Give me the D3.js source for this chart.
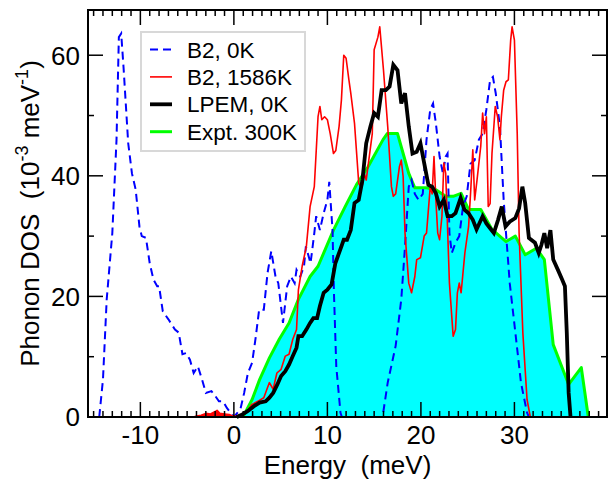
<!DOCTYPE html>
<html>
<head>
<meta charset="utf-8">
<script src="https://cdn.jsdelivr.net/npm/d3@7"></script>
<style>
  html, body { margin: 0; padding: 0; background: #fff; }
  svg { display: block; }
  text { font-family: "Liberation Sans", Arial, Helvetica, sans-serif; fill: #000; }
</style>
</head>
<body>
<svg id="chart" width="608" height="481"></svg>
<script>
// Phonon density of states, energy in meV, DOS in 10^-3 meV^-1
const xTicksMajor = [-10, 0, 10, 20, 30];
const yTicksMajor = [0, 20, 40, 60];
const yTicksMinor = [10, 30, 50];

const legendLabels = ["B2, 0K", "B2, 1586K", "LPEM, 0K", "Expt. 300K"];

// B2 phase at 0 K (imaginary modes plotted at negative energy)
const b2_0K = [
  [-14.4, 0], [-14.0, 6.2], [-13.6, 19.5], [-13.0, 30.5], [-12.55, 46], [-12.3, 63],
  [-12.05, 63.6], [-11.8, 58], [-11.3, 45.4], [-10.9, 40.4], [-10.5, 37.7], [-10.1, 31.6],
  [-9.85, 30], [-9.4, 29.7], [-9.0, 25.5], [-8.6, 22.8], [-8.2, 21.7], [-8.0, 21.7],
  [-7.6, 17.5], [-7.0, 16.2], [-6.3, 14.5], [-5.9, 14], [-5.5, 10.4], [-5.1, 10.6],
  [-4.7, 9.5], [-4.3, 7.3], [-3.85, 8.4], [-3.4, 6.2], [-3.0, 4.0], [-2.4, 4.3],
  [-2.0, 3.5], [-1.6, 2.6], [-1.15, 2.6], [-0.75, 1.5], [-0.1, 0.2], [0.1, 0.2],
  [0.7, 1.3], [1.1, 4.0], [1.5, 7.3], [1.95, 9], [2.35, 13.4], [2.7, 17.8], [3.2, 17.8],
  [3.6, 23.9], [4.0, 27.5], [4.45, 23.3], [4.75, 22.2], [5.25, 15.6], [5.7, 21.7],
  [6.1, 23.3], [6.5, 22.2], [6.7, 24.4], [7.1, 23.3], [7.5, 25], [7.7, 28.3], [8.2, 25.5],
  [8.6, 30.5], [8.8, 33.3], [9.2, 31], [9.6, 33.8], [10.0, 36], [10.2, 39], [10.55, 31],
  [10.7, 20.6], [10.95, 8.4], [11.4, 0.7], [11.55, 0], [15.9, 0], [16.45, 5.7],
  [17.3, 11.8], [17.9, 19.5], [18.3, 28.3], [18.7, 38.2], [19.0, 39.3], [19.35, 37],
  [19.75, 36], [20.2, 37], [20.6, 46], [21.0, 51], [21.3, 52], [21.6, 48.7], [22.0, 43.2],
  [22.35, 40.4], [22.65, 43.2], [22.85, 43.7], [23.05, 30.5], [23.3, 27.2], [23.7, 28.9],
  [24.1, 30], [24.5, 34.9], [24.9, 36.6], [25.3, 42], [25.75, 42.6], [26.2, 46], [26.6, 47],
  [27.0, 51], [27.4, 55.9], [27.7, 56.4], [28.0, 53.7], [28.45, 48.2], [28.85, 36],
  [29.1, 30.5], [29.5, 22.2], [30.1, 14], [30.7, 5.7], [31.35, 0.7], [31.55, 0]
];

// B2 phase at 1586 K
const b2_1586K = [
  [-4.3, 0], [-4.0, 0.15], [-3.5, 0.3], [-3.0, 0.6], [-2.5, 0.5], [-2.0, 0.9], [-1.8, 1.1],
  [-1.5, 0.6], [-1.0, 0.5], [-0.5, 0.4], [0.0, 0.1],
  [0.5, 0.2], [1.3, 0.7], [1.95, 2.1], [2.55, 2.6], [3.2, 3.2], [3.6, 4.9], [3.8, 5.7],
  [4.2, 4.6], [4.6, 7.3], [5.05, 7.9], [5.5, 10.1], [5.9, 10.4], [6.3, 12.9], [6.7, 14.5],
  [6.9, 21.1], [7.3, 25], [7.75, 28.3], [8.15, 34.9], [8.6, 38.2], [9.0, 49.8], [9.2, 51.5],
  [9.4, 49.3], [9.7, 49.8], [10.0, 49.3], [10.3, 47], [10.65, 43.7], [10.9, 44.2],
  [11.25, 48.2], [11.5, 52.6], [11.75, 60], [12.0, 59.5], [12.3, 55.9], [12.5, 53.7],
  [12.9, 48.7], [13.35, 38.8], [13.55, 38.2], [13.75, 38.5], [13.95, 40.4], [14.15, 39.3],
  [14.8, 47], [15.0, 60.9], [15.4, 63], [15.6, 64.7], [16.0, 57.5], [16.45, 48.2],
  [16.85, 38.2], [17.05, 36.6], [17.3, 37], [17.7, 41.5], [17.9, 42.6], [18.1, 39.9],
  [18.3, 30.5], [18.7, 22.2], [19.0, 20.6], [19.35, 23.3], [19.55, 26.1], [19.95, 26.4],
  [20.35, 30], [20.6, 30.5], [21.0, 38.2], [21.2, 37], [21.4, 43.2], [21.6, 36], [21.8, 30.5],
  [22.0, 29.4], [22.25, 33.3], [22.45, 42.1], [22.65, 40.4], [23.05, 22.2], [23.45, 13.4],
  [23.7, 14.5], [23.9, 20.6], [24.1, 22.2], [24.3, 20.6], [24.7, 27.2], [25.1, 31.6],
  [25.35, 38.2], [25.55, 44.3], [25.75, 36], [26.0, 39.3], [26.4, 44.9], [26.6, 50.4],
  [26.8, 47], [27.0, 49.8], [27.2, 34.9], [27.4, 35.4], [27.6, 43.7], [27.95, 51.5],
  [28.2, 49.8], [28.45, 46], [28.6, 49.8], [28.85, 54.2], [29.1, 55.6], [29.35, 55.9],
  [29.6, 62.5], [29.75, 64.7], [30.0, 62.5], [30.3, 47], [30.5, 30.5], [30.9, 14],
  [31.35, 2.9], [31.7, 0]
];

// LPEM structure at 0 K
const lpem_0K = [
  [0.3, 0], [0.9, 0.4], [1.5, 1.0], [2.15, 1.8], [2.75, 2.4], [3.4, 2.6], [3.8, 3.2],
  [4.2, 4.0], [4.65, 5.4], [5.05, 6.8], [5.5, 7.6], [5.9, 8.7], [6.3, 10.1], [6.7, 11.5],
  [6.9, 13.4], [7.3, 13.4], [7.75, 14.5], [8.15, 15.6], [8.5, 16.4], [8.9, 16.4],
  [9.2, 18.4], [9.6, 20.6], [10.0, 21.1], [10.45, 22], [10.85, 25.5], [11.5, 28.3],
  [11.75, 29.4], [12.1, 29.4], [12.5, 31], [12.9, 35.5], [13.35, 36], [13.75, 39.3],
  [14.15, 45.4], [14.6, 48.2], [15.0, 50.4], [15.4, 49.8], [15.8, 54.2], [16.25, 54.2],
  [16.65, 54.8], [17.05, 58.4], [17.5, 57.5], [17.9, 52], [18.3, 53.7], [18.7, 48.2],
  [19.1, 43.7], [19.55, 44], [19.95, 45.4], [20.35, 42.1], [20.8, 38.5], [21.2, 38.2],
  [21.6, 37.1], [22.0, 34.9], [22.45, 36], [22.85, 33.3], [23.3, 33.3], [23.7, 33.8],
  [24.25, 36.3], [24.65, 34.4], [25.1, 33.8], [25.55, 32.7], [25.95, 31.1], [26.6, 33.3],
  [27.0, 32.1], [27.4, 31.3], [27.8, 30.5], [28.25, 32.7], [28.65, 34.9], [29.05, 31.6],
  [29.5, 32.4], [30.1, 33], [30.5, 34.6], [30.85, 38.2], [31.15, 35.5], [31.55, 29.7],
  [32.2, 28.9], [32.6, 27.2], [32.9, 28.6], [33.2, 30.5], [33.5, 28], [33.85, 31],
  [34.15, 26.1], [34.65, 24.4], [35.1, 22.8], [35.4, 21.7], [35.6, 14], [35.8, 4], [36.0, 0]
];

// Measured spectrum at 300 K
const expt_300K = [
  [0.3, 0], [1.1, 0.4], [1.95, 2.9], [2.75, 6.2], [3.8, 9.8], [4.85, 12.9], [5.9, 15.6],
  [6.9, 19.5], [8.15, 23.3], [9.0, 25], [10.65, 31], [11.9, 34.9], [13.1, 38.5],
  [14.35, 41.5], [15.95, 46], [16.4, 47], [17.5, 47], [18.1, 43.7], [18.7, 40.4],
  [19.35, 38], [20.6, 38], [21.6, 37.7], [22.65, 36.6], [23.45, 36.6], [24.3, 37.1],
  [25.1, 34.4], [26.4, 34.4], [27.6, 31.1], [29.1, 29.1], [30.1, 30], [31.15, 26.9],
  [32.35, 28], [33.2, 26.1], [34.15, 12], [35.8, 5.4], [37.15, 8.2], [37.9, 0]
];

const svg = d3.select("#chart");
const pLeft = 88, pRight = 607, pTop = 10, pBottom = 417;

const x = d3.scaleLinear().domain([-15.6, 39.9]).range([pLeft, pRight]);
const y = d3.scaleLinear().domain([0, 67.5]).range([pBottom, pTop]);

const line = d3.line().x(d => x(d[0])).y(d => y(d[1]));
const area = d3.area().x(d => x(d[0])).y0(y(0)).y1(d => y(d[1]));

const plot = svg.append("g");

// experimental spectrum: filled area with green outline
plot.append("path").datum(expt_300K).attr("d", area).attr("fill", "#00ffff");
plot.append("path").datum(expt_300K).attr("d", line)
  .attr("fill", "none").attr("stroke", "#00ff00").attr("stroke-width", 3).attr("stroke-linejoin", "round");

// B2 0 K, dashed blue
plot.append("path").datum(b2_0K).attr("d", line)
  .attr("fill", "none").attr("stroke", "#0000ff").attr("stroke-width", 2)
  .attr("stroke-dasharray", "8,5");

// B2 1586 K: the unstable region below 0 meV is a dense red band
plot.append("path").datum(b2_1586K.filter(d => d[0] <= 0)).attr("d", area).attr("fill", "#ff0000");
plot.append("path").datum(b2_1586K).attr("d", line)
  .attr("fill", "none").attr("stroke", "#ff0000").attr("stroke-width", 1.6).attr("stroke-linejoin", "round");

// LPEM 0 K, thick black
plot.append("path").datum(lpem_0K).attr("d", line)
  .attr("fill", "none").attr("stroke", "#000").attr("stroke-width", 3.8).attr("stroke-linejoin", "miter");

// frame
svg.append("rect").attr("x", pLeft).attr("y", pTop).attr("width", pRight - pLeft).attr("height", pBottom - pTop)
  .attr("fill", "none").attr("stroke", "#000").attr("stroke-width", 2);

// inward ticks on all four sides
const majorLen = 15, minorLen = 6;
const xMinor = d3.range(-15, 40, 1).filter(v => !xTicksMajor.includes(v));
const ticks = svg.append("g").attr("stroke", "#000").attr("stroke-width", 1.5);
xTicksMajor.forEach(v => {
  ticks.append("line").attr("x1", x(v)).attr("x2", x(v)).attr("y1", pBottom).attr("y2", pBottom - majorLen);
  ticks.append("line").attr("x1", x(v)).attr("x2", x(v)).attr("y1", pTop).attr("y2", pTop + majorLen);
});
xMinor.forEach(v => {
  ticks.append("line").attr("x1", x(v)).attr("x2", x(v)).attr("y1", pBottom).attr("y2", pBottom - minorLen);
  ticks.append("line").attr("x1", x(v)).attr("x2", x(v)).attr("y1", pTop).attr("y2", pTop + minorLen);
});
yTicksMajor.forEach(v => {
  ticks.append("line").attr("y1", y(v)).attr("y2", y(v)).attr("x1", pLeft).attr("x2", pLeft + majorLen);
  ticks.append("line").attr("y1", y(v)).attr("y2", y(v)).attr("x1", pRight).attr("x2", pRight - majorLen);
});
yTicksMinor.forEach(v => {
  ticks.append("line").attr("y1", y(v)).attr("y2", y(v)).attr("x1", pLeft).attr("x2", pLeft + minorLen);
  ticks.append("line").attr("y1", y(v)).attr("y2", y(v)).attr("x1", pRight).attr("x2", pRight - minorLen);
});

// tick labels
svg.append("g").selectAll("text").data(xTicksMajor).join("text")
  .attr("x", d => x(d)).attr("y", 444).attr("text-anchor", "middle")
  .attr("font-size", 26).text(d => d);
svg.append("g").selectAll("text").data(yTicksMajor).join("text")
  .attr("x", 80).attr("y", d => y(d)).attr("dy", "0.36em").attr("text-anchor", "end")
  .attr("font-size", 26).text(d => d);

// axis titles
svg.append("text").attr("x", (pLeft + pRight) / 2).attr("y", 474).attr("text-anchor", "middle")
  .attr("font-size", 26).attr("xml:space", "preserve").text("Energy  (meV)");

const yt = svg.append("text")
  .attr("transform", `translate(39,${(pTop + pBottom) / 2}) rotate(-90)`)
  .attr("text-anchor", "middle").attr("font-size", 26).attr("xml:space", "preserve");
yt.append("tspan").text("Phonon DOS  (10");
yt.append("tspan").attr("font-size", 18).attr("dy", -11).text("-3");
yt.append("tspan").attr("dy", 11).text(" meV");
yt.append("tspan").attr("font-size", 18).attr("dy", -11).text("-1");
yt.append("tspan").attr("dy", 11).text(")");

// legend
const lg = svg.append("g");
lg.append("rect").attr("x", 141).attr("y", 32).attr("width", 164).attr("height", 119)
  .attr("fill", "#fff").attr("stroke", "#d8d8d8").attr("stroke-width", 2);
const legendStyles = [
  { color: "#0000ff", width: 2, dash: "8,5" },
  { color: "#ff0000", width: 1.6, dash: null },
  { color: "#000000", width: 3.8, dash: null },
  { color: "#00ff00", width: 3, dash: null }
];
legendLabels.forEach((lab, i) => {
  const cy = 49.5 + i * 27.4;
  const s = legendStyles[i];
  const l = lg.append("line").attr("x1", 150).attr("x2", 172).attr("y1", cy).attr("y2", cy)
    .attr("stroke", s.color).attr("stroke-width", s.width);
  if (s.dash) l.attr("stroke-dasharray", s.dash);
  lg.append("text").attr("x", 187).attr("y", cy).attr("dy", "0.36em")
    .attr("font-size", 22.5).text(lab);
});
</script>
</body>
</html>
